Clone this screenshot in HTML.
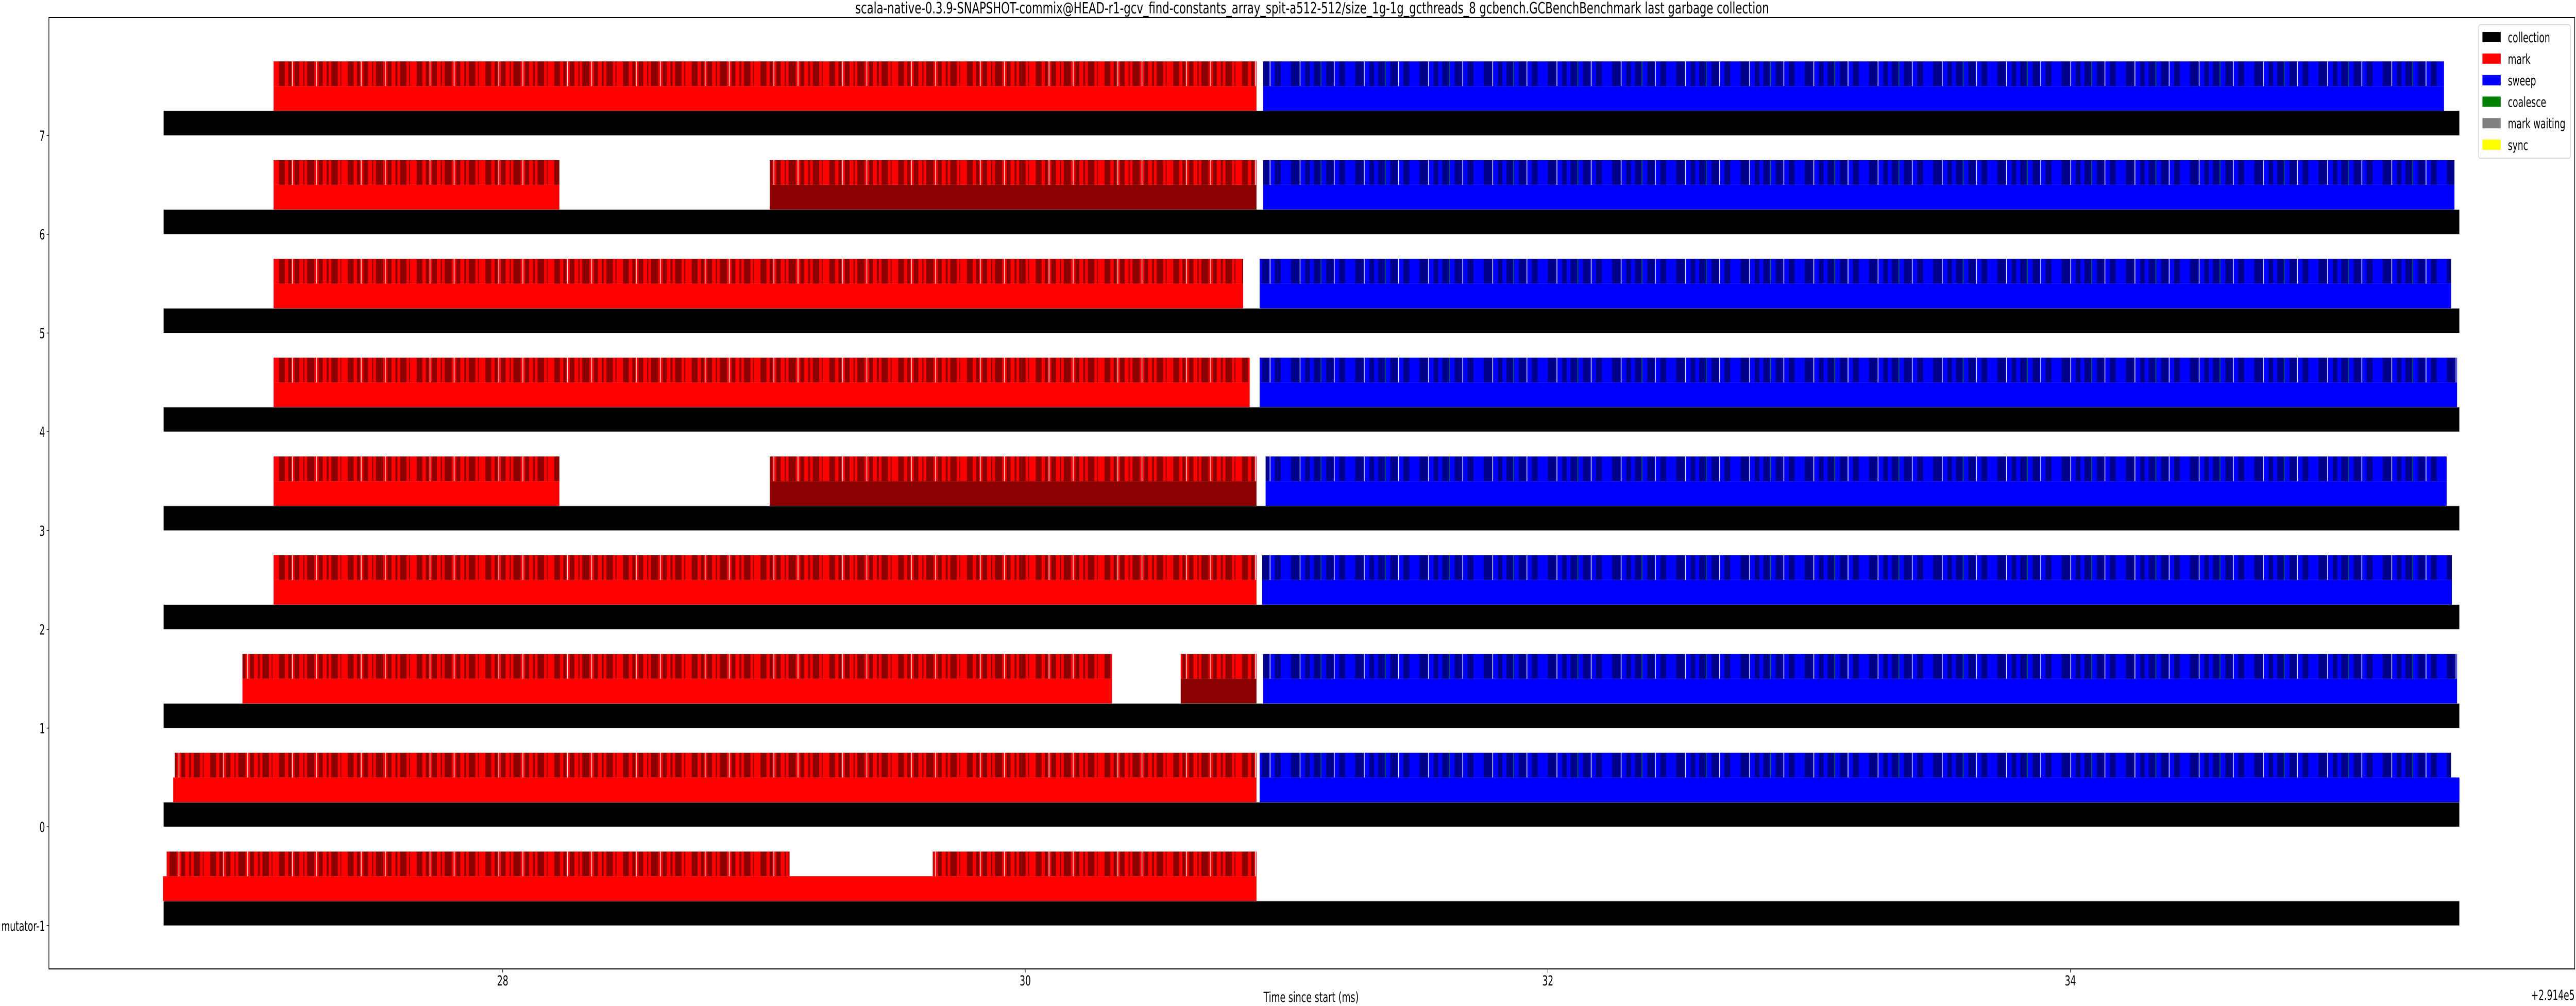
<!DOCTYPE html>
<html><head><meta charset="utf-8"><style>
html,body{margin:0;padding:0;background:#fff;width:100%;height:100%;overflow:hidden;}
svg{display:block;width:100vw;height:100vh;font-family:"DejaVu Sans","Liberation Sans",sans-serif;}
</style></head><body>
<svg id="chart" viewBox="0 0 7902 1953" preserveAspectRatio="none" xmlns="http://www.w3.org/2000/svg">
<defs>
<pattern id="markStripes" patternUnits="userSpaceOnUse" x="0" y="0" width="211" height="10">
<rect x="0" y="0" width="211" height="10" fill="#ff0000"/>
<rect x="12" y="0" width="18" height="10" fill="#8b0000"/>
<rect x="40" y="0" width="9" height="10" fill="#8b0000"/>
<rect x="52" y="0" width="2" height="10" fill="#fff"/>
<rect x="60" y="0" width="14" height="10" fill="#8b0000"/>
<rect x="86" y="0" width="4" height="10" fill="#8b0000"/>
<rect x="98" y="0" width="22" height="10" fill="#8b0000"/>
<rect x="126" y="0" width="2" height="10" fill="#fff"/>
<rect x="134" y="0" width="12" height="10" fill="#8b0000"/>
<rect x="158" y="0" width="6" height="10" fill="#8b0000"/>
<rect x="172" y="0" width="20" height="10" fill="#8b0000"/>
<rect x="200" y="0" width="3" height="10" fill="#8b0000"/>
</pattern>
<pattern id="sweepStripes" patternUnits="userSpaceOnUse" x="0" y="0" width="197" height="10">
<rect x="0" y="0" width="197" height="10" fill="#0000ff"/>
<rect x="20" y="0" width="26" height="10" fill="#00008b"/>
<rect x="47" y="0" width="2" height="10" fill="#fff"/>
<rect x="64" y="0" width="14" height="10" fill="#00008b"/>
<rect x="90" y="0" width="20" height="10" fill="#00008b"/>
<rect x="111" y="0" width="2" height="10" fill="#008000"/>
<rect x="128" y="0" width="22" height="10" fill="#00008b"/>
<rect x="152" y="0" width="2" height="10" fill="#fff"/>
<rect x="168" y="0" width="18" height="10" fill="#00008b"/>
</pattern>
</defs>
<g id="plot"></g>
</svg>
<script>
// ---- data ----
const rowLabels = ['mutator-1','0','1','2','3','4','5','6','7'];
const rowValues = [-1,0,1,2,3,4,5,6,7];
const collectionStart = [26.702,26.702,26.702,26.702,26.702,26.702,26.702,26.702,26.702];
const collectionEnd   = [35.489,35.489,35.489,35.489,35.489,35.489,35.489,35.489,35.489];
const markSegs = [
  [[26.70,30.885]],
  [[26.739,30.885]],
  [[27.004,30.332]],
  [[27.123,30.885]],
  [[27.123,28.217]],
  [[27.123,30.859]],
  [[27.123,30.834]],
  [[27.123,28.217]],
  [[27.123,30.885]]
];
const darkMarkSegs = [
  [],[],
  [[30.595,30.885]],
  [],
  [[29.022,30.885]],
  [],[],
  [[29.022,30.885]],
  []
];
const markDetailSegs = [
  [[26.714,29.098],[29.646,30.885]],
  [[26.745,30.885]],
  [[27.004,30.332],[30.595,30.885]],
  [[27.123,30.885]],
  [[27.123,28.217],[29.022,30.885]],
  [[27.123,30.859]],
  [[27.123,30.834]],
  [[27.123,28.217],[29.022,30.885]],
  [[27.123,30.885]]
];
const sweepStart = [null,30.897,30.910,30.907,30.920,30.897,30.897,30.910,30.910];
const sweepEnd   = [null,35.489,35.480,35.460,35.440,35.480,35.457,35.470,35.430];
const sweepDetailEnd = [null,35.457,35.480,35.460,35.440,35.480,35.457,35.470,35.430];
const xTicks = [28,30,32,34];
const xTickLabels = ['28','30','32','34'];
const legendLabels = ['collection','mark','sweep','coalesce','mark waiting','sync'];
const legendColors = ['#000000','#ff0000','#0000ff','#008000','#808080','#ffff00'];

// ---- axes ----
const AX = {left:150, right:7898, top:34, bottom:1881};
function xs(t){ return 1542 + (t-28)*801.5; }
function ys(v){ return 1797 - (v+1)*191.75; }
const NS='http://www.w3.org/2000/svg';
const plot=document.getElementById('plot');
function mk(tag,attrs,parent){const e=document.createElementNS(NS,tag);for(const k in attrs)e.setAttribute(k,attrs[k]);(parent||plot).appendChild(e);return e;}
function band(t0,t1,v,off,fill,name){
  const r=mk('rect',{x:xs(t0),y:ys(v+off+0.25),width:xs(t1)-xs(t0),height:ys(v+off)-ys(v+off+0.25),fill:fill});
  
  
  return r;
}

for(let i=0;i<rowValues.length;i++){
  const v=rowValues[i];
  const c=band(collectionStart[i],collectionEnd[i],v,0,'#000','collection-bar');
  c.setAttribute('stroke','#d0d0d0');c.setAttribute('stroke-width','1');
  markSegs[i].forEach(s=>band(s[0],s[1],v,0.25,'#ff0000','mark-bar'));
  darkMarkSegs[i].forEach(s=>band(s[0],s[1],v,0.25,'#8b0000','mark-dark-bar'));
  markDetailSegs[i].forEach(s=>band(s[0],s[1],v,0.5,'url(#markStripes)','mark-detail-bar'));
  if(sweepStart[i]!==null){
    band(sweepStart[i],sweepEnd[i],v,0.25,'#0000ff','sweep-bar');
    band(sweepStart[i],sweepDetailEnd[i],v,0.5,'url(#sweepStripes)','sweep-detail-bar');
  }
}

// frame
const frame=mk('rect',{x:AX.left,y:AX.top,width:AX.right-AX.left,height:AX.bottom-AX.top,fill:'none',stroke:'#000','stroke-width':2});



// y ticks
for(let i=0;i<rowValues.length;i++){
  const y=ys(rowValues[i]);
  const tk=mk('line',{x1:AX.left-7,x2:AX.left,y1:y,y2:y,stroke:'#000','stroke-width':1.5});
  
  
  const tl=mk('text',{x:AX.left-12,y:y+10,'font-size':27,'text-anchor':'end',fill:'#000'});
  tl.textContent=rowLabels[i];
  
  
}
// x ticks
for(let i=0;i<xTicks.length;i++){
  const x=xs(xTicks[i]);
  const tk=mk('line',{x1:x,x2:x,y1:AX.bottom,y2:AX.bottom+7,stroke:'#000','stroke-width':1.5});
  
  
  const tl=mk('text',{x:x,y:1913,'font-size':27,'text-anchor':'middle',fill:'#000'});
  tl.textContent=xTickLabels[i];
  
  
}
// offset label
const off=mk('text',{x:7898,y:1941,'font-size':27,'text-anchor':'end',fill:'#000'});
off.textContent='+2.914e5';


// x axis title
const xt=mk('text',{x:4022,y:1945,'font-size':27,'text-anchor':'middle',fill:'#000',textLength:292,lengthAdjust:'spacingAndGlyphs'});
xt.textContent='Time since start (ms)';


// title
const tt=mk('text',{x:4025,y:26,'font-size':30,'text-anchor':'middle',fill:'#000',textLength:2803,lengthAdjust:'spacingAndGlyphs'});
tt.textContent='scala-native-0.3.9-SNAPSHOT-commix@HEAD-r1-gcv_find-constants_array_spit-a512-512/size_1g-1g_gcthreads_8 gcbench.GCBenchBenchmark last garbage collection';



// legend
const lg=mk('g',{});


const lb=mk('rect',{x:7603,y:48,width:282,height:259,rx:5,fill:'#fff','fill-opacity':0.8,stroke:'#cccccc','stroke-width':1.5},lg);


for(let i=0;i<legendLabels.length;i++){
  const cy=72+i*41.8;
  const h=mk('rect',{x:7615,y:cy-10,width:56,height:20,fill:legendColors[i]},lg);
  
  
  const t=mk('text',{x:7693,y:cy+10,'font-size':27,fill:'#000'},lg);
  t.textContent=legendLabels[i];
  
  
}
</script>
</body></html>
